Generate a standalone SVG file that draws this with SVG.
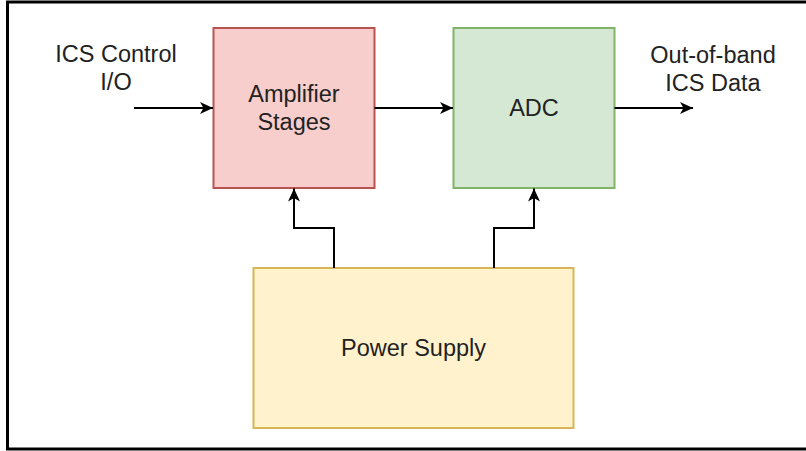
<svg xmlns="http://www.w3.org/2000/svg" width="806" height="451" viewBox="0 0 806 451">
<style>
.t{font-family:"Liberation Sans",Arial,sans-serif;font-size:23.5px;fill:#222;text-anchor:middle}
.c{fill:none;stroke:#000;stroke-width:2;marker-end:url(#ah)}
</style>
<defs>
<marker id="ah" markerUnits="userSpaceOnUse" markerWidth="15" markerHeight="15" viewBox="0 0 15 15" refX="14" refY="7.5" orient="auto">
<path d="M1,1.5 L14,7.5 L1,13.5 L4.5,7.5 Z" fill="#000"/>
</marker>
</defs>
<rect x="0" y="0" width="806" height="451" fill="#fff"/>
<rect x="7.5" y="2" width="820" height="447" fill="none" stroke="#000" stroke-width="3"/>
<g id="amplifier">
<rect x="213.5" y="28" width="161" height="160" fill="#f8cecc" stroke="#b85450" stroke-width="2"/>
<text class="t" x="294" y="102">Amplifier</text>
<text class="t" x="294" y="130">Stages</text>
</g>
<g id="adc">
<rect x="453.5" y="28" width="161" height="160" fill="#d5e8d4" stroke="#82b366" stroke-width="2"/>
<text class="t" x="534" y="116">ADC</text>
</g>
<g id="power">
<rect x="253.5" y="268" width="320" height="160" fill="#fff2cc" stroke="#d6b656" stroke-width="2"/>
<text class="t" x="413.5" y="356">Power Supply</text>
</g>
<g id="labels">
<text class="t" x="116" y="62">ICS Control</text>
<text class="t" x="116" y="90">I/O</text>
<text class="t" x="713" y="63">Out-of-band</text>
<text class="t" x="713" y="91">ICS Data</text>
</g>
<g id="connectors">
<path class="c" d="M134,108 H213"/>
<path class="c" d="M374.5,108 H453"/>
<path class="c" d="M614.5,108 H693"/>
<path class="c" d="M334,268 V228 H294 V188.5"/>
<path class="c" d="M494,268 V228 H534 V188.5"/>
</g>
</svg>
